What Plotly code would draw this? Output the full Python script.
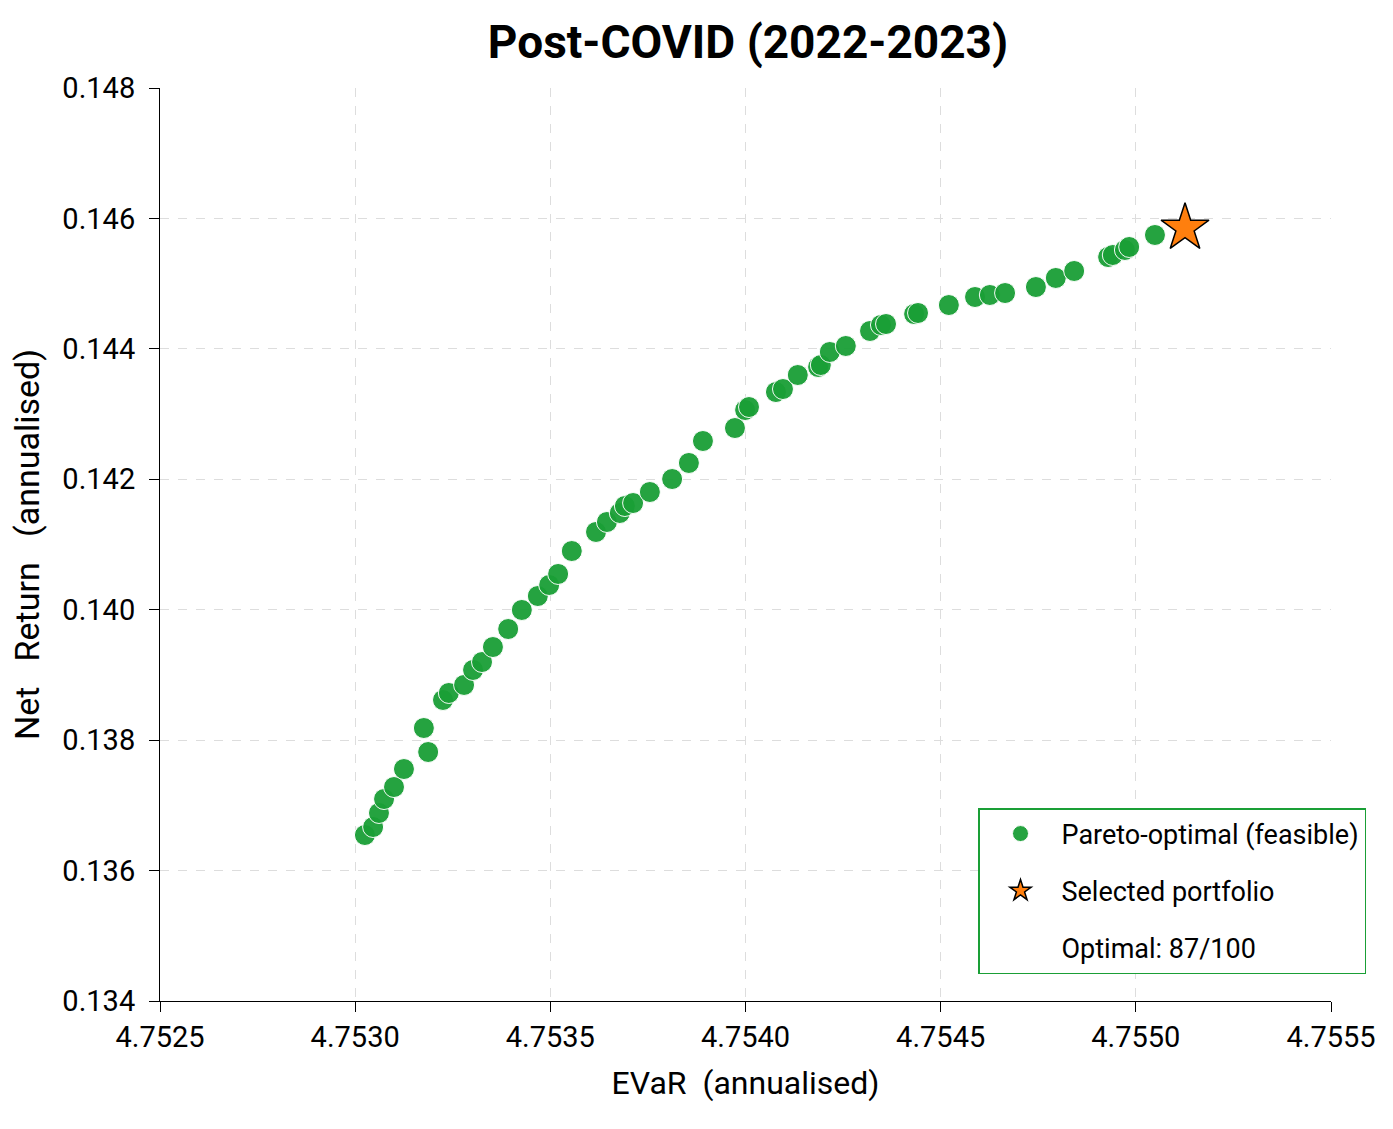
import plotly.graph_objects as go

evar = [4.753025, 4.753046, 4.753061, 4.753074, 4.7530995, 4.753125, 4.753176, 4.753187,
        4.753225, 4.75324, 4.753279, 4.753302, 4.753325, 4.753353, 4.753392, 4.753427,
        4.753468, 4.753497, 4.75352, 4.753555, 4.753617, 4.753645, 4.753678, 4.753691,
        4.753712, 4.753755, 4.753812, 4.753855, 4.753891, 4.753973, 4.753999, 4.754009,
        4.754078, 4.754096, 4.754134, 4.754186, 4.754193, 4.754216, 4.754257, 4.754319,
        4.754347, 4.75436, 4.754432, 4.754442, 4.754521, 4.754588, 4.754626, 4.754665,
        4.754744, 4.754795, 4.754842, 4.754929, 4.754941, 4.754972, 4.754983, 4.755049]
net_return = [0.136545, 0.136668, 0.136883, 0.137097, 0.137281, 0.137557, 0.138186, 0.137818,
              0.138616, 0.138723, 0.138846, 0.139076, 0.139198, 0.139428, 0.139704, 0.139996,
              0.14021, 0.140379, 0.140548, 0.1409, 0.141192, 0.141345, 0.141483, 0.14159,
              0.141636, 0.141805, 0.142004, 0.14225, 0.142587, 0.142786, 0.143062, 0.143108,
              0.143338, 0.143384, 0.143599, 0.143722, 0.143752, 0.143952, 0.144044, 0.144274,
              0.144366, 0.144381, 0.144534, 0.14455, 0.144672, 0.144795, 0.144826, 0.144856,
              0.144948, 0.145087, 0.145194, 0.145408, 0.145439, 0.145516, 0.145562, 0.145746]
selected_evar = [4.755126]
selected_return = [0.145853]

x_ticks = [4.7525, 4.7530, 4.7535, 4.7540, 4.7545, 4.7550, 4.7555]
x_tick_labels = ["4.7525", "4.7530", "4.7535", "4.7540", "4.7545", "4.7550", "4.7555"]
y_ticks = [0.134, 0.136, 0.138, 0.140, 0.142, 0.144, 0.146, 0.148]
y_tick_labels = ["0.134", "0.136", "0.138", "0.140", "0.142", "0.144", "0.146", "0.148"]

FONT = "Roboto, sans-serif"
GREEN = "#1a9f36"
SP = "\u00a0"

fig = go.Figure()
fig.add_trace(go.Scatter(
    x=evar, y=net_return, mode="markers", name="Pareto-optimal (feasible)",
    legendgroup="a",
    marker=dict(color=GREEN, size=21, opacity=0.95, line=dict(color="white", width=1)),
))
fig.add_trace(go.Scatter(
    x=selected_evar, y=selected_return, mode="markers", name="Selected portfolio",
    legendgroup="b",
    marker=dict(symbol="star", color="#ff7f0e", size=36, line=dict(color="black", width=1.5)),
))
fig.add_trace(go.Scatter(
    x=[None], y=[None], mode="markers", name="Optimal: 87/100",
    legendgroup="c",
    marker=dict(color="rgba(0,0,0,0)", size=1),
))

fig.update_layout(
    width=1393, height=1129,
    margin=dict(l=160, r=62, t=88, b=128),
    paper_bgcolor="white", plot_bgcolor="white",
    font=dict(family=FONT, size=29, color="black"),
    title=dict(text="<b>Post-COVID (2022-2023)</b>", x=748 / 1393, xanchor="center",
               y=1 - 42 / 1129, yanchor="middle", font=dict(size=46, family=FONT)),
    xaxis=dict(
        range=[4.7525, 4.7555], tickvals=x_ticks, ticktext=x_tick_labels,
        showgrid=True, gridcolor="#dddddd", griddash="dash", gridwidth=1,
        showline=True, linecolor="black", linewidth=1, mirror=False,
        ticks="outside", ticklen=10, tickcolor="black", zeroline=False,
        title=dict(text="EVaR" + SP * 2 + "(annualised)", standoff=18, font=dict(size=32)),
        tickfont=dict(size=29),
    ),
    yaxis=dict(
        range=[0.134, 0.148], tickvals=y_ticks, ticktext=y_tick_labels,
        showgrid=True, gridcolor="#dddddd", griddash="dash", gridwidth=1,
        showline=True, linecolor="black", linewidth=1, mirror=False,
        ticks="outside", ticklen=10, tickcolor="black", zeroline=False,
        ticklabelstandoff=8,
        title=dict(text=SP * 5 + "Net" + SP * 3 + "Return" + SP * 3 + "(annualised)", standoff=12,
                   font=dict(size=34)),
        tickfont=dict(size=29),
    ),
    legend=dict(
        x=(1366 - 160) / 1171, xanchor="right", y=(1001 - 974) / 913, yanchor="bottom",
        bgcolor="white", bordercolor=GREEN, borderwidth=1.5,
        font=dict(size=27, family=FONT), tracegroupgap=19, itemwidth=72,
    ),
    showlegend=True,
)

fig.write_html("out.html")
